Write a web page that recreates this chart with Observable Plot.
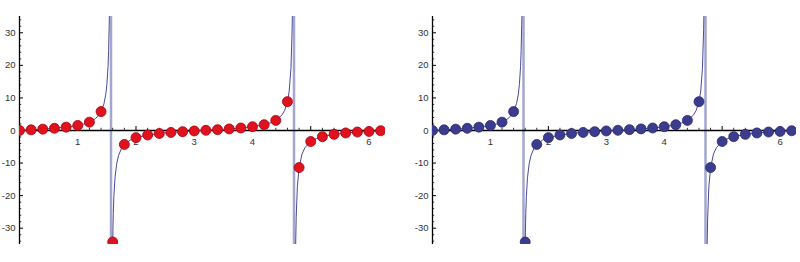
<!DOCTYPE html>
<html>
<head>
<meta charset="utf-8">
<script src="https://cdn.jsdelivr.net/npm/d3@7"></script>
<script src="https://cdn.jsdelivr.net/npm/@observablehq/plot@0.6"></script>
<style>
  html, body { margin: 0; padding: 0; background: #fff; }
  #wrap { display: flex; width: 800px; height: 262px; overflow: hidden; }
</style>
</head>
<body>
<div id="wrap"></div>
<script>
const sampleX = [0, 0.2, 0.4, 0.6, 0.8, 1.0, 1.2, 1.4, 1.6, 1.8, 2.0, 2.2, 2.4, 2.6, 2.8, 3.0,
                 3.2, 3.4, 3.6, 3.8, 4.0, 4.2, 4.4, 4.6, 4.8, 5.0, 5.2, 5.4, 5.6, 5.8, 6.0, 6.2];
const sampleY = [0, 0.20, 0.42, 0.68, 1.03, 1.56, 2.57, 5.80, -34.23, -4.29, -2.19, -1.37, -0.92, -0.60, -0.36, -0.14,
                 0.06, 0.26, 0.49, 0.77, 1.16, 1.78, 3.10, 8.86, -11.38, -3.38, -1.89, -1.18, -0.76, -0.47, -0.29, -0.08];

// Continuous curve, three branches
const curveX = [
  0, 0.2, 0.4, 0.6, 0.8, 1.0, 1.1, 1.2, 1.3, 1.35, 1.4, 1.45, 1.48, 1.5, 1.52, 1.53, 1.54, 1.5427,
  1.5994, 1.6, 1.61, 1.62, 1.64, 1.67, 1.7, 1.75, 1.8, 1.9, 2.0, 2.2, 2.4, 2.6, 2.8, 3.0, 3.2, 3.4, 3.6, 3.8,
  4.0, 4.2, 4.3, 4.4, 4.5, 4.55, 4.6, 4.63, 4.66, 4.68, 4.6838,
  4.741, 4.75, 4.77, 4.8, 4.85, 4.9, 5.0, 5.1, 5.2, 5.4, 5.6, 5.8, 6.0, 6.2, 6.2832
];
const curveY = [
  0, 0.20, 0.42, 0.68, 1.03, 1.56, 1.96, 2.57, 3.60, 4.46, 5.80, 8.24, 10.98, 14.10, 19.67, 24.50, 32.46, 35,
  -35, -34.23, -25.5, -20.3, -14.4, -10.05, -7.70, -5.52, -4.29, -2.93, -2.19, -1.37, -0.92, -0.60, -0.36, -0.14, 0.06, 0.26, 0.49, 0.77,
  1.16, 1.78, 2.28, 3.10, 4.64, 6.10, 8.86, 12.1, 19.1, 30.9, 35,
  -35, -26.6, -17.3, -11.38, -7.22, -5.27, -3.38, -2.45, -1.89, -1.18, -0.76, -0.47, -0.29, -0.08, 0
];
const curveBranch = [
  ...Array(18).fill(0),
  ...Array(31).fill(1),
  ...Array(15).fill(2)
];

const asymptotes = [1.5708, 4.7124];
const xTickValues = [1, 2, 3, 4, 5, 6];
const xTickLabels = ["1", "2", "3", "4", "5", "6"];
const yTickValues = [-30, -20, -10, 0, 10, 20, 30];
const yTickLabels = ["-30", "-20", "-10", "0", "10", "20", "30"];

const curve = curveX.map((x, i) => ({x, y: curveY[i], b: curveBranch[i]}));
const samples = sampleX.map((x, i) => ({x, y: sampleY[i]}));
const xMinor = d3.range(0.2, 6.3, 0.2).map(v => +v.toFixed(1)).filter(v => Math.abs(v - Math.round(v)) > 1e-6);
const yMinor = d3.range(-34, 35, 2).filter(v => v % 10 !== 0);
const xMajor = xTickValues.map((v, i) => ({v, label: xTickLabels[i]}));
const yMajor = yTickValues.map((v, i) => ({v, label: yTickLabels[i]}));

function panel(fill, stroke, marginLeft, marginRight, xUnit) {
  const tx = 4 / xUnit;   // 4px tick length in x units
  const ty = 4 / 3.25;    // 4px tick length in y units
  return Plot.plot({
    width: 400,
    height: 262,
    marginLeft, marginRight,
    marginTop: 16, marginBottom: 18,
    x: {domain: [0, 2 * Math.PI], axis: null},
    y: {domain: [-35, 35], axis: null},
    style: {fontFamily: "'Liberation Sans', Arial, sans-serif", fontSize: "9.5px", background: "#fff"},
    marks: [
      Plot.ruleX(asymptotes, {y1: -35, y2: 35, stroke: "#a3a6cf", strokeWidth: 2.5}),
      // axes
      Plot.ruleY([0], {x1: 0, x2: 2 * Math.PI, stroke: "#000", strokeWidth: 1.3}),
      Plot.ruleX([0], {y1: -35, y2: 35, stroke: "#000", strokeWidth: 1.3}),
      // x ticks
      Plot.ruleX(xMajor, {x: "v", y1: 0, y2: ty, stroke: "#000", strokeWidth: 1}),
      Plot.ruleX(xMinor, {y1: 0, y2: ty * 0.55, stroke: "#000", strokeWidth: 0.8}),
      Plot.text(xMajor, {x: "v", y: 0, dy: 11, text: "label", fill: "#333"}),
      // y ticks
      Plot.ruleY(yMajor, {y: "v", x1: 0, x2: tx, stroke: "#000", strokeWidth: 1}),
      Plot.ruleY(yMinor, {x1: 0, x2: tx * 0.55, stroke: "#000", strokeWidth: 0.8}),
      Plot.text(yMajor, {x: 0, y: "v", dx: -4, textAnchor: "end", text: "label", fill: "#333"}),
      // curve and points
      Plot.line(curve, {x: "x", y: "y", z: "b", stroke: "#4a4a99", strokeWidth: 1, clip: true}),
      Plot.dot(samples, {x: "x", y: "y", r: 5, fill, stroke, strokeWidth: 0.8, clip: true})
    ]
  });
}

const wrap = document.getElementById("wrap");
wrap.appendChild(panel("#e0121e", "#a80010", 19, 15, 58.2));
wrap.appendChild(panel("#3c3c8e", "#2a2a6e", 32, 4, 58));
</script>
</body>
</html>
